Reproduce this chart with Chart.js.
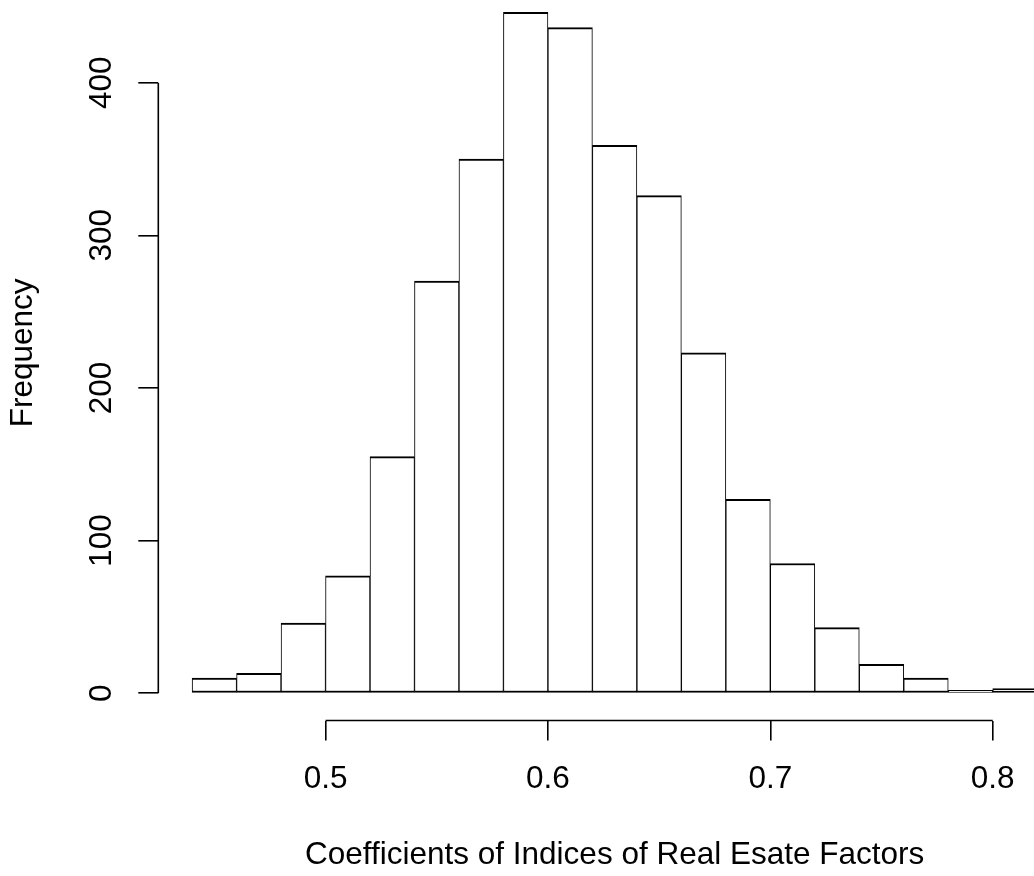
<!DOCTYPE html>
<html>
<head>
<meta charset="utf-8">
<script src="https://cdn.jsdelivr.net/npm/chart.js"></script>
<style>
  html, body { margin: 0; padding: 0; background: #fff; }
  #wrap { width: 1034px; height: 876px; position: relative; }
</style>
</head>
<body>
<div id="wrap"><canvas id="hist"></canvas></div>
<script>
// histogram breaks (bin edges) and counts per bin
const breaks = [0.44, 0.46, 0.48, 0.50, 0.52, 0.54, 0.56, 0.58, 0.60, 0.62,
                0.64, 0.66, 0.68, 0.70, 0.72, 0.74, 0.76, 0.78, 0.80, 0.82];
const counts = [10, 13, 46, 77, 155, 270, 350, 446, 436, 359,
                326, 223, 127, 85, 43, 19, 10, 2, 3];
const xTicks = [0.5, 0.6, 0.7, 0.8];
const yTicks = [0, 100, 200, 300, 400];

const xTitle = "Coefficients of Indices of Real Esate Factors";
const yTitle = "Frequency";

const FONT = "'Liberation Sans', Arial, Helvetica, sans-serif";
const FSIZE = 31.5;

// plot region like R (it runs past the top and right edge of the picture)
const PLOT = { left: 158.3, top: -14.8, right: 1071, bottom: 720.5 };

const points = counts.map((c, i) => ({ x: (breaks[i] + breaks[i + 1]) / 2, y: c }));

// R extends the axis range by 4% on each side
const xr = breaks[breaks.length - 1] - breaks[0];
const ymax = Math.max(...counts);

const rLayout = {
    id: "rLayout",
    afterLayout(chart) {
        const a = chart.chartArea;
        Object.assign(a, PLOT);
        a.width = a.right - a.left;
        a.height = a.bottom - a.top;
        const xs = chart.scales.x, ys = chart.scales.y;
        Object.assign(xs, { left: a.left, right: a.right, top: a.bottom, bottom: chart.height,
                            width: a.width, height: chart.height - a.bottom });
        Object.assign(ys, { left: 0, right: a.left, top: a.top, bottom: a.bottom,
                            width: a.left, height: a.height });
        xs.configure();
        ys.configure();
    },
    // axis lines only from first to last tick
    afterDraw(chart) {
        const ctx = chart.ctx;
        const xs = chart.scales.x, ys = chart.scales.y;
        const a = chart.chartArea;
        ctx.save();
        ctx.strokeStyle = "#000";
        ctx.lineWidth = 1.6;
        ctx.beginPath();
        ctx.moveTo(xs.getPixelForValue(xTicks[0]), a.bottom);
        ctx.lineTo(xs.getPixelForValue(xTicks[xTicks.length - 1]), a.bottom);
        ctx.moveTo(a.left, ys.getPixelForValue(yTicks[0]));
        ctx.lineTo(a.left, ys.getPixelForValue(yTicks[yTicks.length - 1]));
        ctx.stroke();
        ctx.restore();
    }
};

new Chart(document.getElementById("hist"), {
    type: "bar",
    data: {
        datasets: [{
            data: points,
            backgroundColor: "#ffffff",
            borderColor: "#000000",
            borderWidth: { top: 2, bottom: 2, left: 1, right: 1 },
            borderSkipped: false,
            barPercentage: 1,
            categoryPercentage: 1,
            clip: false
        }]
    },
    options: {
        responsive: true,
        maintainAspectRatio: false,
        animation: false,
        layout: { padding: 0 },
        plugins: { legend: { display: false }, tooltip: { enabled: false } },
        scales: {
            x: {
                type: "linear",
                offset: false,
                min: breaks[0] - 0.04 * xr,
                max: breaks[breaks.length - 1] + 0.04 * xr,
                afterBuildTicks: s => { s.ticks = xTicks.map(v => ({ value: v })); },
                border: { display: false },
                grid: { offset: false, drawOnChartArea: false, drawTicks: true, tickLength: 20, color: "#000", lineWidth: 1.6 },
                ticks: {
                    color: "#000", padding: 20, maxRotation: 0, autoSkip: false,
                    font: { family: FONT, size: FSIZE },
                    callback: v => v.toFixed(1)
                },
                title: {
                    display: true, text: xTitle, color: "#000",
                    font: { family: FONT, size: FSIZE },
                    padding: { top: 0, bottom: 2 }
                }
            },
            y: {
                min: -0.04 * ymax,
                max: ymax * 1.04,
                afterBuildTicks: s => { s.ticks = yTicks.map(v => ({ value: v })); },
                border: { display: false },
                grid: { drawOnChartArea: false, drawTicks: true, tickLength: 20, color: "#000", lineWidth: 1.6 },
                ticks: {
                    color: "#000", padding: 9.5, autoSkip: false,
                    minRotation: 90, maxRotation: 90, crossAlign: "center",
                    font: { family: FONT, size: FSIZE },
                    callback: v => String(v)
                },
                title: {
                    display: true, text: yTitle, color: "#000",
                    font: { family: FONT, size: FSIZE },
                    padding: { top: 4.5, bottom: 0 }
                }
            }
        }
    },
    plugins: [rLayout]
});
</script>
</body>
</html>
